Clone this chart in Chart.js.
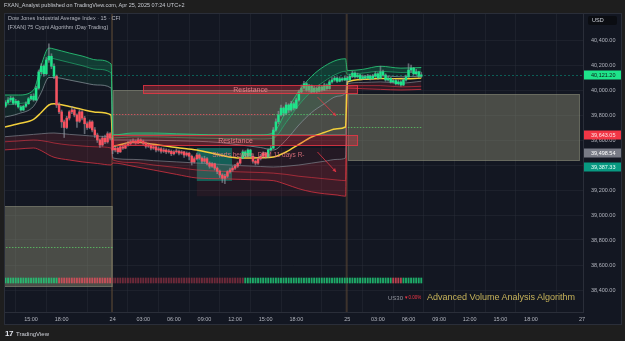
<!DOCTYPE html>
<html>
<head>
<meta charset="utf-8">
<title>US30 15m - 75 Cygni Algorithm</title>
<script src="https://cdn.jsdelivr.net/npm/chart.js@4.4.1/dist/chart.umd.min.js"></script>
<style>
  html, body { margin: 0; padding: 0; background: #1e1e1e; }
  #wrap { position: relative; width: 625px; height: 341px; overflow: hidden; font-family: "Liberation Sans", Arial, sans-serif; }
  #myChart { position: absolute; left: 0; top: 0; }
  .txt { position: absolute; white-space: nowrap; line-height: 1; }
</style>
</head>
<body>
<div id="wrap">
  <canvas id="myChart" width="625" height="341"></canvas>
  <div class="txt" style="left:4px;top:3px;font-size:5.5px;color:#c9ccd3">FXAN_Analyst published on TradingView.com, Apr 25, 2025 07:24 UTC+2</div>
  <div class="txt" style="left:8px;top:16px;font-size:5.5px;color:#b2b5be">Dow Jones Industrial Average Index · 15 · CFI</div>
  <div class="txt" style="left:8px;top:25px;font-size:5.5px;color:#b2b5be">[FXAN] 75 Cygni Algorithm (Day Trading)</div>
  <div class="txt" style="left:588px;top:16px;width:29px;height:9px;line-height:9px;padding-left:4px;box-sizing:border-box;background:#0b0d12;border-radius:2px;font-size:5.5px;color:#d1d4dc">USD</div>
  <div class="txt" style="left:388px;top:295px;font-size:6px;color:#9598a1">US30</div>
  <div class="txt" style="left:404px;top:296px;font-size:4.5px;color:#f23645">▼0.00%</div>
  <div class="txt" style="left:427px;top:293px;font-size:9px;color:#c7b35a">Advanced Volume Analysis Algorithm</div>
  <div class="txt" style="left:5px;top:330px;font-size:8px;font-weight:bold;color:#e0e3eb;letter-spacing:-0.5px">17</div>
  <div class="txt" style="left:16px;top:331px;font-size:6px;color:#d1d4dc">TradingView</div>
</div>
<script>
const chartPlace = document.getElementById("myChart");
let myChart;

// 15 min bars, bar 0 = Apr 23 15:00 (closed hours skipped)
const firstBar = -10;
const opens = [
  39870, 39900, 39920, 39935, 39895, 39910, 39865, 39840, 39870, 39890,
  39930, 39950, 39920, 40015, 40145, 40190, 40130, 40240, 40270, 40190,
  40110, 39880, 39825, 39745, 39700, 39775, 39825, 39840, 39800, 39750,
  39825, 39775, 39730, 39700, 39745, 39680, 39640, 39600, 39560, 39615,
  39585, 39650,
  39600, 39520, 39535, 39505, 39545, 39535, 39560, 39570, 39585, 39590,
  39575, 39600, 39590, 39575, 39550, 39560, 39535, 39545, 39520, 39530,
  39510, 39520, 39505, 39510, 39490, 39505, 39510, 39495, 39505, 39480,
  39495, 39470, 39425, 39450, 39480, 39455, 39430, 39450, 39415, 39390,
  39410, 39375, 39350, 39320, 39295, 39310, 39345, 39360, 39375, 39390,
  39415, 39455, 39505, 39470, 39520, 39470, 39430, 39415, 39450, 39470,
  39495, 39465, 39520, 39535, 39680, 39745, 39800, 39855, 39815, 39880,
  39840, 39890, 39855, 39920, 39985, 40015, 40050, 40000, 40030, 39985,
  40015, 39990, 40025, 40000, 40040, 40010, 40065, 40080, 40095, 40070,
  40090, 40080,
  40095, 40080, 40110, 40135, 40105, 40120, 40090, 40105, 40095, 40110,
  40090, 40110, 40130, 40095, 40145, 40120, 40080, 40095, 40065, 40075,
  40050, 40065, 40040, 40080, 40105, 40160, 40175, 40130, 40145, 40110
];
const highs = [
  39915, 39940, 39950, 39945, 39925, 39915, 39875, 39880, 39905, 39940,
  39965, 39970, 40030, 40160, 40210, 40200, 40260, 40370, 40290, 40210,
  40120, 39900, 39840, 39760, 39790, 39835, 39870, 39850, 39810, 39840,
  39835, 39790, 39745, 39760, 39755, 39700, 39655, 39610, 39630, 39640,
  39665, 39660,
  39610, 39550, 39545, 39555, 39560, 39575, 39590, 39600, 39610, 39600,
  39615, 39610, 39600, 39585, 39575, 39570, 39560, 39555, 39545, 39540,
  39535, 39530, 39525, 39520, 39515, 39530, 39520, 39515, 39510, 39505,
  39500, 39480, 39465, 39495, 39490, 39465, 39470, 39460, 39425, 39420,
  39415, 39385, 39360, 39330, 39325, 39355, 39375, 39390, 39405, 39425,
  39465, 39520, 39515, 39530, 39525, 39480, 39440, 39460, 39485, 39505,
  39500, 39530, 39550, 39700, 39770, 39830, 39880, 39865, 39900, 39890,
  39910, 39900, 39935, 40000, 40040, 40070, 40060, 40045, 40040, 40030,
  40025, 40040, 40035, 40055, 40050, 40080, 40100, 40110, 40105, 40105,
  40100, 40110,
  40110, 40125, 40150, 40145, 40135, 40125, 40120, 40115, 40125, 40120,
  40125, 40145, 40140, 40190, 40160, 40130, 40110, 40100, 40090, 40085,
  40080, 40075, 40095, 40120, 40210, 40200, 40180, 40165, 40150, 40140
];
const lows = [
  39860, 39890, 39905, 39885, 39880, 39855, 39830, 39835, 39860, 39885,
  39920, 39910, 39915, 40005, 40130, 40110, 40120, 40220, 40170, 40090,
  39860, 39810, 39700, 39620, 39690, 39760, 39810, 39785, 39700, 39740,
  39760, 39650, 39685, 39690, 39665, 39620, 39580, 39540, 39550, 39570,
  39575, 39600,
  39490, 39505, 39490, 39500, 39525, 39530, 39550, 39560, 39575, 39565,
  39570, 39580, 39560, 39535, 39540, 39520, 39525, 39505, 39510, 39495,
  39500, 39490, 39495, 39475, 39480, 39495, 39480, 39485, 39460, 39470,
  39440, 39400, 39415, 39440, 39445, 39415, 39420, 39400, 39375, 39380,
  39360, 39330, 39300, 39260, 39250, 39300, 39335, 39350, 39365, 39380,
  39405, 39450, 39460, 39465, 39460, 39415, 39400, 39405, 39440, 39460,
  39455, 39460, 39510, 39530, 39670, 39730, 39790, 39795, 39805, 39820,
  39830, 39840, 39850, 39910, 39975, 40005, 39990, 39985, 39975, 39980,
  39975, 39985, 39990, 39995, 40000, 40005, 40055, 40070, 40060, 40065,
  40070, 40075,
  40060, 40070, 40100, 40095, 40095, 40080, 40085, 40085, 40090, 40080,
  40085, 40100, 40085, 40090, 40110, 40070, 40070, 40055, 40055, 40040,
  40040, 40030, 40035, 40070, 40100, 40140, 40120, 40120, 40100, 40100
];
const closes = [
  39900, 39920, 39935, 39895, 39910, 39865, 39840, 39870, 39890, 39930,
  39950, 39920, 40015, 40145, 40190, 40130, 40240, 40270, 40190, 40110,
  39880, 39825, 39745, 39700, 39775, 39825, 39840, 39800, 39750, 39825,
  39775, 39730, 39700, 39745, 39680, 39640, 39600, 39560, 39615, 39585,
  39650, 39615,
  39520, 39535, 39505, 39545, 39535, 39560, 39570, 39585, 39590, 39575,
  39600, 39590, 39575, 39550, 39560, 39535, 39545, 39520, 39530, 39510,
  39520, 39505, 39510, 39490, 39505, 39510, 39495, 39505, 39480, 39495,
  39470, 39425, 39450, 39480, 39455, 39430, 39450, 39415, 39390, 39410,
  39375, 39350, 39320, 39295, 39310, 39345, 39360, 39375, 39390, 39415,
  39455, 39505, 39470, 39520, 39470, 39430, 39415, 39450, 39470, 39495,
  39465, 39520, 39535, 39680, 39745, 39800, 39855, 39815, 39880, 39840,
  39890, 39855, 39920, 39985, 40015, 40050, 40000, 40030, 39985, 40015,
  39990, 40025, 40000, 40040, 40010, 40065, 40080, 40095, 40070, 40090,
  40080, 40095,
  40080, 40110, 40135, 40105, 40120, 40090, 40105, 40095, 40110, 40090,
  40110, 40130, 40095, 40145, 40120, 40080, 40095, 40065, 40075, 40050,
  40065, 40040, 40080, 40105, 40160, 40175, 40130, 40145, 40110, 40121.2
];

// bar colouring of the algorithm (trend switches)
const trendStarts = [-10, 10, 83, 87, 93];
const trendDirs = [1, -1, 1, -1, 1];
// volume strip tone switches
const volumeStarts = [-10, 11, 32, 84, 142, 146];
const volumeTones = ["up", "down", "weak", "up", "down", "up"];

// band lines of the algorithm, sampled at these bars
const bandBars = [-11, -5, 1, 4, 7, 9, 15, 20, 26, 31.4,
  32.1, 40, 48, 57, 65, 74, 82, 90, 95, 100, 105, 110, 115, 120, 123.3,
  124, 130, 137, 145, 153];
const upperOuter = [39960, 39960, 40000, 40200, 40336, 40328, 40296, 40272, 40240, 40208,
  39640, 39656, 39656, 39650, 39645, 39640, 39640, 39640, 39660, 39830, 39990, 40110, 40190, 40240, 40250,
  40155, 40165, 40190, 40175, 40180];
const upperInner = [39880, 39890, 39940, 40120, 40260, 40250, 40220, 40195, 40165, 40136,
  39616, 39625, 39625, 39620, 39615, 39612, 39610, 39608, 39615, 39740, 39880, 39990, 40070, 40130, 40150,
  40125, 40135, 40150, 40140, 40145];
const upperGray = [39780, 39810, 39870, 39980, 40100, 40100, 40080, 40060, 40040, 40016,
  39600, 39600, 39598, 39594, 39590, 39580, 39560, 39540, 39520, 39600, 39720, 39820, 39890, 39950, 39976,
  40100, 40110, 40115, 40105, 40110];
const midline = [39700, 39730, 39765, 39820, 39880, 39890, 39868, 39845, 39822, 39800,
  39552, 39584, 39566, 39540, 39520, 39480, 39456, 39458, 39464, 39504, 39565, 39624, 39660, 39690, 39704,
  40064, 40085, 40092, 40090, 40095];
const lowerGray = [39625, 39635, 39645, 39650, 39655, 39656, 39645, 39638, 39630, 39624,
  39456, 39445, 39435, 39425, 39416, 39405, 39395, 39388, 39384, 39390, 39400, 39415, 39430, 39445, 39456,
  40050, 40060, 40065, 40055, 40070];
const lowerRed = [39585, 39592, 39600, 39595, 39585, 39576, 39560, 39552, 39545, 39536,
  39440, 39420, 39400, 39380, 39360, 39350, 39345, 39340, 39335, 39325, 39310, 39300, 39290, 39280, 39275,
  40030, 40035, 40035, 40025, 40030];
const lowerRed2 = [39520, 39528, 39536, 39515, 39480, 39462, 39440, 39425, 39412, 39400,
  39416, 39390, 39360, 39325, 39296, 39290, 39285, 39280, 39275, 39245, 39210, 39185, 39170, 39160, 39150,
  40015, 40010, 40005, 40000, 40005];

// zones: [from bar, to bar, top price, bottom price]
const grayZones = [[-11, 32, 39072, 38424], [32.1, 123.6, 40000, 39640], [124.2, 215.2, 39968, 39432]];
const zoneLevels = [[-11, 32, 38744, "bull"], [32.1, 95, 39808, "bear"], [95, 123.6, 39808, "bull"], [124.2, 153, 39704, "bull"]];
const resistanceBoxes = [[43.9, 128.2, 40040, 39968], [32.1, 128.2, 39640, 39552]];
const demandBox = [65, 78.8, 39536, 39272];
const bearShade = [65, 124, 39536, 39150];
const arrowSegments = [[112.3, 39944, 119.6, 39792], [112.3, 39504, 119.6, 39344]];
const noteText = "Shorts beware, DFM 11 days R-";
const notePoint = [71, 39480];
const volumeBand = [38456, 38496];
const sessionBreaks = [31.75, 123.75];

const markPrices = [40121.20, 39643.05, 39498.54, 39387.33];
const markKinds = ["last", "bear", "neutral", "bull"];

const priceTicks = [38400, 38600, 38800, 39000, 39200, 39400, 39600, 39800, 40000, 40200, 40400];
const timeTickBars = [0, 12, 32, 44, 56, 68, 80, 92, 104, 124, 136, 148, 160, 172, 184, 196, 216];
const timeTickLabels = ["15:00", "18:00", "24", "03:00", "06:00", "09:00", "12:00", "15:00", "18:00",
  "25", "03:00", "06:00", "09:00", "12:00", "15:00", "18:00", "27"];

const UP = "#1ee38a";
const DOWN = "#f7525f";
const FONT = "'Liberation Sans', Arial, sans-serif";

function pickSegment(bar, starts, values) {
  let v = values[0];
  starts.forEach((s, k) => { if (bar >= s) v = values[k]; });
  return v;
}

function fmtPrice(v) {
  return v.toLocaleString("en-US", { minimumFractionDigits: 2, maximumFractionDigits: 2 });
}

function bandLine(values, color, width, fill, fillColor) {
  return {
    type: "line",
    data: bandBars.map((b, k) => ({ x: b, y: values[k] })),
    borderColor: color,
    borderWidth: width,
    pointRadius: 0,
    cubicInterpolationMode: "monotone",
    fill: fill,
    backgroundColor: fillColor || "transparent"
  };
}

const decor = {
  id: "decor",
  beforeDraw(chart) {
    const { ctx, chartArea: a, scales } = chart;
    ctx.save();
    ctx.fillStyle = "#1e1e1e";
    ctx.fillRect(0, 0, chart.width, chart.height);
    ctx.fillStyle = "#131722";
    ctx.fillRect(a.left, a.top, scales.y.right - a.left, scales.x.bottom - a.top);
    ctx.restore();
  },
  beforeDatasetsDraw(chart) {
    const { ctx, chartArea: a, scales } = chart;
    const px = v => scales.x.getPixelForValue(v);
    const py = v => scales.y.getPixelForValue(v);
    ctx.save();
    ctx.beginPath();
    ctx.rect(a.left, a.top, a.right - a.left, a.bottom - a.top);
    ctx.clip();

    // session breaks
    ctx.strokeStyle = "rgba(88,70,52,0.6)";
    ctx.lineWidth = 2;
    sessionBreaks.forEach(b => {
      ctx.beginPath();
      ctx.moveTo(px(b), a.top);
      ctx.lineTo(px(b), a.bottom);
      ctx.stroke();
    });

    grayZones.forEach(z => {
      const x1 = px(z[0]), x2 = px(z[1]), y1 = py(z[2]), y2 = py(z[3]);
      ctx.fillStyle = "rgba(141,143,118,0.45)";
      ctx.fillRect(x1, y1, x2 - x1, y2 - y1);
      ctx.strokeStyle = "rgba(160,162,140,0.35)";
      ctx.lineWidth = 1;
      ctx.strokeRect(x1 + 0.5, y1 + 0.5, x2 - x1 - 1, y2 - y1 - 1);
    });

    ctx.fillStyle = "rgba(242,54,69,0.08)";
    ctx.fillRect(px(bearShade[0]), py(bearShade[2]), px(bearShade[1]) - px(bearShade[0]), py(bearShade[3]) - py(bearShade[2]));

    ctx.fillStyle = "rgba(8,153,129,0.55)";
    ctx.fillRect(px(demandBox[0]), py(demandBox[2]), px(demandBox[1]) - px(demandBox[0]), py(demandBox[3]) - py(demandBox[2]));

    ctx.lineWidth = 1;
    ctx.setLineDash([1.5, 1.5]);
    zoneLevels.forEach(l => {
      ctx.strokeStyle = l[3] === "bull" ? "rgba(90,190,100,0.85)" : "rgba(230,90,100,0.8)";
      ctx.beginPath();
      ctx.moveTo(px(l[0]), Math.round(py(l[2])) + 0.5);
      ctx.lineTo(px(l[1]), Math.round(py(l[2])) + 0.5);
      ctx.stroke();
    });

    // last price line
    const lastPrice = closes[closes.length - 1];
    ctx.setLineDash([2, 2]);
    ctx.strokeStyle = "rgba(8,153,129,0.55)";
    ctx.beginPath();
    ctx.moveTo(a.left, Math.round(py(lastPrice)) + 0.5);
    ctx.lineTo(a.right, Math.round(py(lastPrice)) + 0.5);
    ctx.stroke();
    ctx.restore();
  },
  afterDatasetsDraw(chart) {
    const { ctx, chartArea: a, scales } = chart;
    const px = v => scales.x.getPixelForValue(v);
    const py = v => scales.y.getPixelForValue(v);
    ctx.save();
    ctx.beginPath();
    ctx.rect(a.left, a.top, a.right - a.left, a.bottom - a.top);
    ctx.clip();

    resistanceBoxes.forEach(r => {
      const x1 = px(r[0]), x2 = px(r[1]), y1 = py(r[2]), y2 = py(r[3]);
      ctx.fillStyle = "rgba(242,54,69,0.3)";
      ctx.fillRect(x1, y1, x2 - x1, y2 - y1);
      ctx.strokeStyle = "rgba(242,54,69,0.75)";
      ctx.lineWidth = 1;
      ctx.strokeRect(x1 + 0.5, y1 + 0.5, x2 - x1 - 1, y2 - y1 - 1);
      ctx.fillStyle = "rgba(255,140,150,0.8)";
      ctx.font = "7px " + FONT;
      ctx.textAlign = "center";
      ctx.textBaseline = "middle";
      ctx.fillText("Resistance", (x1 + x2) / 2, (y1 + y2) / 2 + 0.5);
    });

    ctx.strokeStyle = "rgba(242,54,69,0.75)";
    ctx.fillStyle = "rgba(242,54,69,0.75)";
    ctx.lineWidth = 1;
    arrowSegments.forEach(s => {
      const x1 = px(s[0]), y1 = py(s[1]), x2 = px(s[2]), y2 = py(s[3]);
      const ang = Math.atan2(y2 - y1, x2 - x1);
      ctx.beginPath();
      ctx.moveTo(x1, y1);
      ctx.lineTo(x2, y2);
      ctx.stroke();
      ctx.beginPath();
      ctx.moveTo(x2, y2);
      ctx.lineTo(x2 - 4 * Math.cos(ang - 0.5), y2 - 4 * Math.sin(ang - 0.5));
      ctx.lineTo(x2 - 4 * Math.cos(ang + 0.5), y2 - 4 * Math.sin(ang + 0.5));
      ctx.closePath();
      ctx.fill();
    });

    ctx.fillStyle = "rgba(235,120,130,0.85)";
    ctx.font = "6.5px " + FONT;
    ctx.textAlign = "left";
    ctx.textBaseline = "middle";
    ctx.fillText(noteText, px(notePoint[0]), py(notePoint[1]));
    ctx.restore();
  },
  afterDraw(chart) {
    const { ctx, chartArea: a, scales } = chart;
    const py = v => scales.y.getPixelForValue(v);
    ctx.save();
    ctx.strokeStyle = "#2a2e39";
    ctx.lineWidth = 1;
    ctx.strokeRect(a.left + 0.5, a.top + 0.5, scales.y.right - a.left - 1, scales.x.bottom - a.top - 1);

    const styles = {
      last: ["#1ee38a", "#0f1a14"],
      bear: ["#f23645", "#ffe3e6"],
      neutral: ["#787b86", "#ffffff"],
      bull: ["#089981", "#e8fff9"]
    };
    ctx.font = "5.5px " + FONT;
    ctx.textAlign = "left";
    ctx.textBaseline = "middle";
    markPrices.forEach((p, k) => {
      const y = Math.round(py(p));
      const st = styles[markKinds[k]];
      ctx.fillStyle = st[0];
      ctx.fillRect(scales.y.left + 1, y - 4.5, scales.y.right - scales.y.left - 2, 9);
      ctx.fillStyle = st[1];
      ctx.fillText(fmtPrice(p), scales.y.left + 8, y + 0.5);
    });
    ctx.restore();
  }
};

function buildChart() {
  const bars = closes.map((c, k) => firstBar + k);
  const candleColors = bars.map(b => pickSegment(b, trendStarts, trendDirs) > 0 ? UP : DOWN);
  const volumeColors = bars.map(b => {
    const tone = pickSegment(b, volumeStarts, volumeTones);
    if (tone === "up") return "rgba(34,209,122,0.8)";
    if (tone === "down") return "rgba(240,80,95,0.75)";
    return "rgba(200,60,80,0.5)";
  });

  myChart = new Chart(chartPlace, {
    type: "bar",
    data: {
      datasets: [
        {
          data: bars.map((b, k) => ({ x: b, y: [opens[k], closes[k]] })),
          backgroundColor: candleColors,
          barThickness: 1.8,
          minBarLength: 1,
          grouped: false
        },
        {
          data: bars.map((b, k) => ({ x: b, y: [lows[k], highs[k]] })),
          backgroundColor: "rgba(150,155,165,0.6)",
          barThickness: 1,
          grouped: false
        },
        bandLine(upperOuter, "rgba(40,200,120,0.85)", 1, "+1", "rgba(20,200,120,0.22)"),
        bandLine(upperInner, "rgba(40,190,120,0.6)", 1, "+1", "rgba(20,200,120,0.09)"),
        bandLine(upperGray, "rgba(140,144,155,0.75)", 1, false),
        bandLine(midline, "#f2cf3b", 1.5, false),
        bandLine(lowerGray, "rgba(120,124,134,0.75)", 1, 8, "rgba(242,54,69,0.13)"),
        bandLine(lowerRed, "rgba(242,54,69,0.55)", 1, false),
        bandLine(lowerRed2, "rgba(210,50,65,0.8)", 1, false),
        {
          data: bars.map(b => ({ x: b, y: volumeBand })),
          backgroundColor: volumeColors,
          barThickness: 1.2,
          grouped: false
        }
      ]
    },
    options: {
      responsive: false,
      devicePixelRatio: 1,
      animation: false,
      events: [],
      layout: { padding: { left: 4, right: 3, top: 13, bottom: 16 } },
      plugins: { legend: { display: false }, tooltip: { enabled: false } },
      scales: {
        x: {
          type: "linear",
          min: -10.6,
          max: 216.4,
          offset: false,
          afterBuildTicks: s => { s.ticks = timeTickBars.map(v => ({ value: v })); },
          afterFit: s => { s.height = 13; },
          grid: { color: "rgba(42,46,57,0.45)", drawTicks: false },
          border: { color: "#2a2e39" },
          ticks: {
            autoSkip: false,
            maxRotation: 0,
            padding: 4,
            color: "#b2b5be",
            font: { size: 5.5, family: FONT },
            callback: (v, i) => timeTickLabels[i]
          }
        },
        y: {
          position: "right",
          min: 38224,
          max: 40616,
          afterBuildTicks: s => { s.ticks = priceTicks.map(v => ({ value: v })); },
          afterFit: s => { s.width = 39; },
          grid: { color: "rgba(42,46,57,0.45)", drawTicks: false },
          border: { color: "#2a2e39" },
          ticks: {
            padding: 8,
            color: "#b2b5be",
            font: { size: 5.5, family: FONT },
            callback: v => fmtPrice(v)
          }
        }
      }
    },
    plugins: [decor]
  });
}

buildChart();
</script>
</body>
</html>
